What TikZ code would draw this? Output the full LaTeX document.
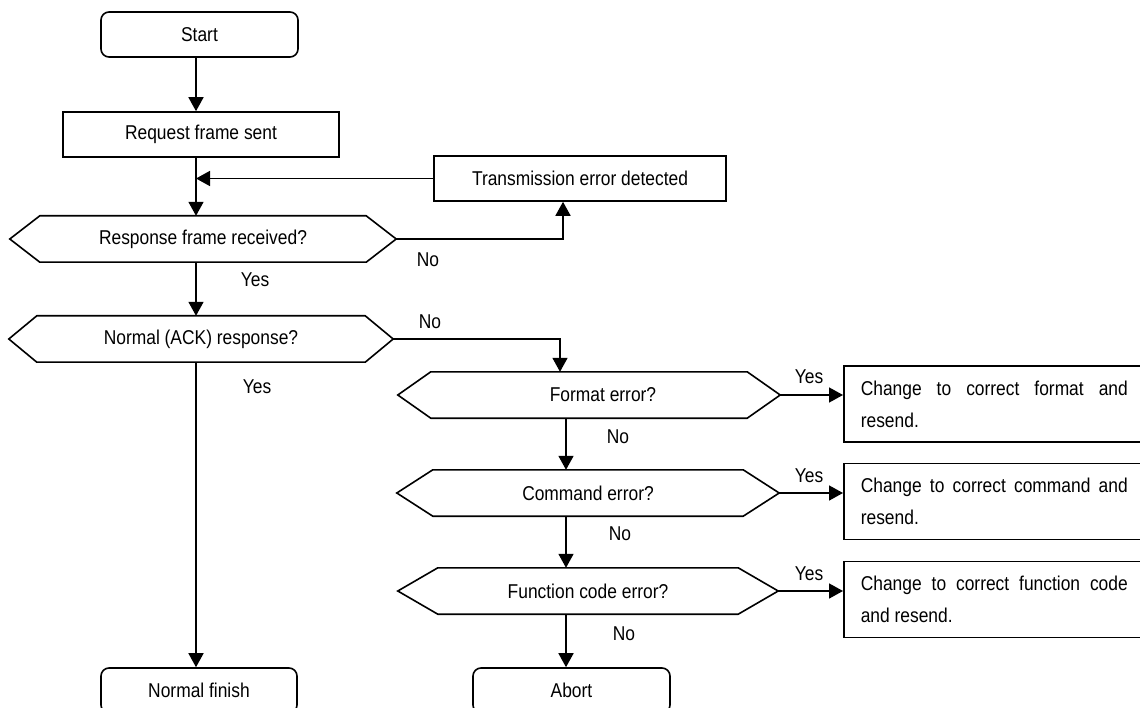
\documentclass[tikz,border=0pt]{standalone}
\usepackage{fontspec}
\setmainfont{Liberation Sans}[FakeStretch=0.87]
\usetikzlibrary{arrows.meta}
\begin{document}
\begin{tikzpicture}[x=1pt,y=-1pt,
  every node/.style={font=\fontsize{20}{23}\selectfont},
  ln/.style={line width=1.6pt},
  arr/.style={ln,-{Triangle[length=14pt,width=15pt]}},
  term/.style={draw,ln,rounded corners=8pt,minimum height=45pt,inner sep=0pt},
  procbox/.style={draw,ln,minimum height=45pt,inner sep=0pt},
  hexn/.style={draw=none,minimum height=46pt,inner sep=0pt},
  fixbox/.style={draw,ln,anchor=west,minimum height=76pt,inner xsep=17pt,inner ysep=0pt,
    text width=267pt,align=justify,font=\fontsize{20}{32}\selectfont},
  lab/.style={inner sep=0pt}
]
\newcommand\hexdraw[2]{%
  \draw[ln] (#1.north west) -- (#1.north east) -- ([xshift=#2]#1.east)
    -- (#1.south east) -- (#1.south west) -- ([xshift=-#2]#1.west) -- cycle;
  \coordinate (#1-tip) at ([xshift=#2]#1.east);}
\useasboundingbox (0,0) rectangle (1140,708);
\fill[white] (0,0) rectangle (1140,708);

\coordinate (mainx) at (196,0);
\coordinate (tx) at (563,0);
\coordinate (ax) at (560,0);
\coordinate (ex) at (566,0);

\node[term,minimum width=197pt] (start) at (199.5,34.5) {Start};
\node[procbox,minimum width=276pt] (req) at (201,134.5) {Request frame sent};
\node[procbox,minimum width=292pt] (trans) at (580,178.5) {Transmission error detected};

\node[hexn,minimum width=326pt] (resp) at (203,239) {Response frame received?};
\hexdraw{resp}{30}
\node[hexn,minimum width=328pt] (ack) at (201,339) {Normal (ACK) response?};
\hexdraw{ack}{28}
\node[hexn,minimum width=316pt] (fmt) at (589,395) {};
\hexdraw{fmt}{33}
\node[lab] (fmtt) at (603,395) {Format error?};
\node[hexn,minimum width=310pt] (cmd) at (588,493) {Command error?};
\hexdraw{cmd}{36}
\node[hexn,minimum width=300pt] (fun) at (588,591) {Function code error?};
\hexdraw{fun}{40}

\node[fixbox] (fix1) at (843,404) {Change to correct format and \mbox{resend.}};
\node[fixbox] (fix2) at (843,501.5) {Change to correct command and \mbox{resend.}};
\node[fixbox] (fix3) at (843,599.5) {Change to correct function code and \mbox{resend.}};

\node[term,minimum width=196pt] (fin) at (199,690.5) {Normal finish};
\node[term,minimum width=197pt] (abort) at (571.5,690.5) {Abort};

% connectors
\draw[arr] (start.south -| mainx) -- (req.north -| mainx);
\draw[arr] (req.south -| mainx) -- (resp.north -| mainx);
\draw[arr] (trans.west) -- (trans.west -| mainx);
\draw[arr] (resp-tip) -| (trans.south -| tx);
\draw[arr] (resp.south -| mainx) -- (ack.north -| mainx);
\draw[arr] (ack-tip) -| (fmt.north -| ax);
\draw[arr] (ack.south -| mainx) -- (fin.north -| mainx);
\draw[arr] (fmt.south -| ex) -- (cmd.north -| ex);
\draw[arr] (cmd.south -| ex) -- (fun.north -| ex);
\draw[arr] (fun.south -| ex) -- (abort.north -| ex);
\draw[arr] (fmt-tip) -- (fmt-tip -| fix1.west);
\draw[arr] (cmd-tip) -- (cmd-tip -| fix2.west);
\draw[arr] (fun-tip) -- (fun-tip -| fix3.west);

% labels
\node[lab] (l1) at (428,260) {No};
\node[lab] (l2) at (255,280) {Yes};
\node[lab] (l3) at (430,322) {No};
\node[lab] (l4) at (257,387) {Yes};
\node[lab] (l5) at (618,437) {No};
\node[lab] (l6) at (620,534) {No};
\node[lab] (l7) at (624,634) {No};
\node[lab] (l8) at (809,377) {Yes};
\node[lab] (l9) at (809,476) {Yes};
\node[lab] (l10) at (809,574) {Yes};
\end{tikzpicture}
\end{document}
